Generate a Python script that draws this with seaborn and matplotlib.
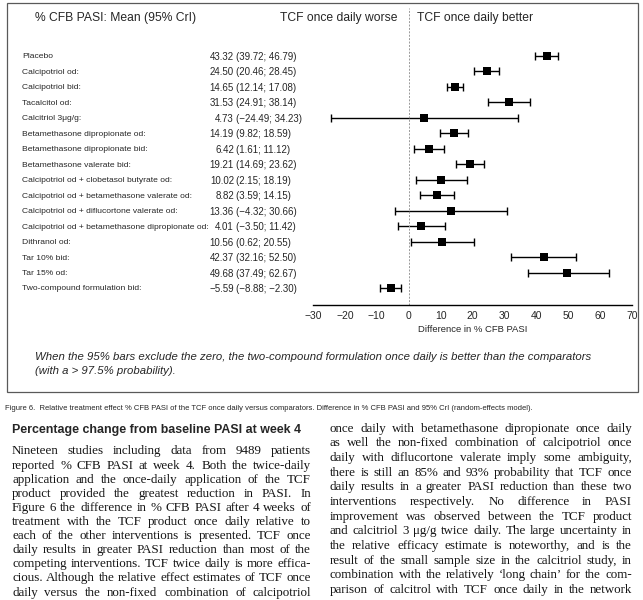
import numpy as np
import pandas as pd

import seaborn as sns
import matplotlib
matplotlib.use('Agg')
import matplotlib.pyplot as plt
from matplotlib.patches import Rectangle
from matplotlib.transforms import blended_transform_factory

# forest plot data: difference in % CFB PASI, mean and 95% CrI
treatments = ['Placebo', 'Calcipotriol od:', 'Calcipotriol bid:', 'Tacalcitol od:',
              'Calcitriol 3\u03bcg/g:', 'Betamethasone dipropionate od:',
              'Betamethasone dipropionate bid:', 'Betamethasone valerate bid:',
              'Calcipotriol od + clobetasol butyrate od:',
              'Calcipotriol od + betamethasone valerate od:',
              'Calcipotriol od + diflucortone valerate od:',
              'Calcipotriol od + betamethasone dipropionate od:',
              'Dithranol od:', 'Tar 10% bid:', 'Tar 15% od:', 'Two-compound formulation bid:']
means = [43.32, 24.50, 14.65, 31.53, 4.73, 14.19, 6.42, 19.21, 10.02, 8.82, 13.36, 4.01,
         10.56, 42.37, 49.68, -5.59]
lower = [39.72, 20.46, 12.14, 24.91, -24.49, 9.82, 1.61, 14.69, 2.15, 3.59, -4.32, -3.50,
         0.62, 32.16, 37.49, -8.88]
upper = [46.79, 28.45, 17.08, 38.14, 34.23, 18.59, 11.12, 23.62, 18.19, 14.15, 30.66, 11.42,
         20.55, 52.50, 62.67, -2.30]
xticks = [-30, -20, -10, 0, 10, 20, 30, 40, 50, 60, 70]

header_left = '% CFB PASI: Mean (95% CrI)'
header_worse = 'TCF once daily worse'
header_better = 'TCF once daily better'
xlabel = 'Difference in % CFB PASI'
footnote = ['When the 95% bars exclude the zero, the two-compound formulation once daily is better than the comparators',
            '(with a > 97.5% probability).']
caption = ('Figure 6.  Relative treatment effect % CFB PASI of the TCF once daily versus comparators. '
           'Difference in % CFB PASI and 95% CrI (random-effects model).')
heading = 'Percentage change from baseline PASI at week 4'
col1_lines = [
    'Nineteen studies including data from 9489 patients',
    'reported % CFB PASI at week 4. Both the twice-daily',
    'application and the once-daily application of the TCF',
    'product provided the greatest reduction in PASI. In',
    'Figure 6 the difference in % CFB PASI after 4 weeks of',
    'treatment with the TCF product once daily relative to',
    'each of the other interventions is presented. TCF once',
    'daily results in greater PASI reduction than most of the',
    'competing interventions. TCF twice daily is more effica-',
    'cious. Although the relative effect estimates of TCF once',
    'daily versus the non-fixed combination of calcipotriol',
]
col2_lines = [
    'once daily with betamethasone dipropionate once daily',
    'as well the non-fixed combination of calcipotriol once',
    'daily with diflucortone valerate imply some ambiguity,',
    'there is still an 85% and 93% probability that TCF once',
    'daily results in a greater PASI reduction than these two',
    'interventions respectively. No difference in PASI',
    'improvement was observed between the TCF product',
    'and calcitriol 3 \u03bcg/g twice daily. The large uncertainty in',
    'the relative efficacy estimate is noteworthy, and is the',
    'result of the small sample size in the calcitriol study, in',
    'combination with the relatively \u2018long chain\u2019 for the com-',
    'parison of calcitrol with TCF once daily in the network',
]

W, H = 643, 600


def fx(px):
    return px / W


def fy(py):
    return 1 - py / H


def fmt(v):
    return '{:.2f}'.format(v).replace('-', '\u2212')


sns.set_style('white')
plt.rcParams['font.family'] = ['Liberation Sans', 'DejaVu Sans']

fig = plt.figure(figsize=(W / 100, H / 100), dpi=100)
ax = fig.add_axes([fx(313), fy(305), fx(632) - fx(313), fy(8) - fy(305)])

df = pd.DataFrame({'treatment': treatments, 'mean': means, 'lower': lower, 'upper': upper})
df['row'] = np.arange(len(df))

ax.errorbar(df['mean'], df['row'],
            xerr=[df['mean'] - df['lower'], df['upper'] - df['mean']],
            fmt='none', ecolor='black', elinewidth=1, capsize=2.6, capthick=1)
sns.scatterplot(data=df, x='mean', y='row', marker='s', s=28, color='black',
                linewidth=0, ax=ax, zorder=3, legend=False)
ax.axvline(0, color='0.6', lw=0.7, ls=(0, (2, 1.5)))

ax.set_xlim(-30, 70)
ax.set_ylim(16.1, -3.1)
ax.set_xticks(xticks)
ax.set_yticks([])
ax.tick_params(axis='x', direction='in', length=4, width=0.8, pad=4, labelsize=7.5)
sns.despine(ax=ax, left=True)
ax.spines['bottom'].set_linewidth(1)
ax.spines['bottom'].set_color('black')
ax.set_xlabel(xlabel, fontsize=6.8, labelpad=3)
ax.set_ylabel('')

# row labels and values, aligned with the rows of the plot
trans = blended_transform_factory(fig.transFigure, ax.transData)
for i, r in df.iterrows():
    ax.text(fx(22), r['row'], r['treatment'], transform=trans, fontsize=6.1,
            va='center_baseline', ha='left')
    ax.text(fx(234), r['row'], fmt(r['mean']), transform=trans, fontsize=7,
            va='center_baseline', ha='right')
    ax.text(fx(236), r['row'], '({}; {})'.format(fmt(r['lower']), fmt(r['upper'])),
            transform=trans, fontsize=7, va='center_baseline', ha='left')

fig.text(fx(35), fy(18), header_left, fontsize=8.7, va='center')
fig.text(fx(397), fy(18), header_worse, fontsize=8.7, va='center', ha='right')
fig.text(fx(417), fy(18), header_better, fontsize=8.7, va='center')

fig.text(fx(35), fy(357), footnote[0], fontsize=8.2, style='italic', va='center')
fig.text(fx(35), fy(371), footnote[1], fontsize=8.2, style='italic', va='center')

fig.add_artist(Rectangle((fx(7), fy(392)), fx(638) - fx(7), fy(3) - fy(392),
                         transform=fig.transFigure, fill=False, ec='0.35', lw=0.9))

fig.text(fx(5), fy(409), caption, fontsize=5.5, va='center')
fig.text(fx(12), fy(430), heading, fontsize=8.9, weight='bold', va='center')

# justified body text in two columns
renderer = fig.canvas.get_renderer()
natural = []
for line in col1_lines + col2_lines:
    t = fig.text(0, 0, line, family='Liberation Serif', fontsize=10)
    natural.append(t.get_window_extent(renderer).width)
    t.remove()
body_size = min(10 * 300 / max(natural) * 0.99, 9.5)


def justify(lines, x0, x1, y_first, dy):
    for k, line in enumerate(lines):
        words = line.split()
        y = round(y_first + k * dy + 3.5)
        texts = [fig.text(0, fy(y), w, family='Liberation Serif',
                          fontsize=body_size, va='baseline', color='#151515') for w in words]
        widths = [t.get_window_extent(renderer).width for t in texts]
        gap = (x1 - x0 - sum(widths)) / max(len(words) - 1, 1)
        x = x0
        for t, w in zip(texts, widths):
            t.set_x(fx(x))
            x += w + gap


justify(col1_lines, 12, 311, 451, 14.1)
justify(col2_lines, 330, 632, 428, 14.7)

fig.savefig('out.png', dpi=100)
